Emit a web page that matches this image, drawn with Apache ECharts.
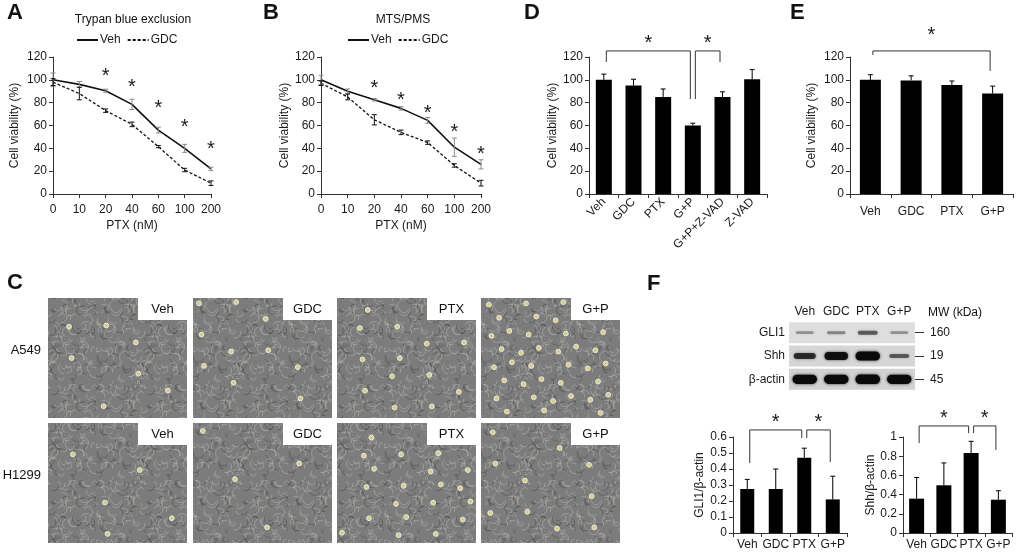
<!DOCTYPE html>
<html>
<head>
<meta charset="utf-8">
<script src="https://cdn.jsdelivr.net/npm/echarts@6/dist/echarts.min.js"></script>
<style>
html, body { margin: 0; padding: 0; background: #fff; }
#fig { width: 1017px; height: 553px; }
</style>
</head>
<body>
<div id="fig"></div>
<script>
// ---- data ----
var ptxDoses = ['0', '10', '20', '40', '60', '100', '200'];

// A: trypan blue exclusion
var trypanVeh = [100, 96, 90.5, 78.5, 56, 40, 22];
var trypanVehErr = [6, 2.5, 1.3, 4.5, 2.5, 3.5, 1.5];
var trypanGdc = [98, 88, 73, 61, 41.5, 21, 9.5];
var trypanGdcErr = [3, 5.5, 1.5, 2, 1, 1.5, 2];
var trypanStars = [[2, 107], [3, 98], [4, 79], [5, 63], [6, 43]];

// B: MTS/PMS
var mtsVeh = [100, 90, 82.5, 75, 64.5, 41, 26];
var mtsVehErr = [4, 2, 1, 1.5, 2.5, 8, 4];
var mtsGdc = [97, 85, 65, 54, 45, 25, 9.5];
var mtsGdcErr = [2, 2.5, 4.5, 2, 1.5, 1.5, 2.5];
var mtsStars = [[2, 97], [3, 86], [4, 75], [5, 58], [6, 39]];

// D: Z-VAD rescue
var zvadGroups = ['Veh', 'GDC', 'PTX', 'G+P', 'G+P+Z-VAD', 'Z-VAD'];
var zvadViab = [100, 95, 85, 60, 85, 100.5];
var zvadErr = [5, 5.5, 7, 2, 4.5, 8.5];
// [from, to, top, fromEnd, toEnd, star]
var zvadBrackets = [[0, 3, 125.3, 115.6, 83.2, 135.8], [3, 4, 125.3, 83.2, 115.6, 135.8]];

// E
var treatGroups = ['Veh', 'GDC', 'PTX', 'G+P'];
var panelEViab = [100, 99.5, 95.5, 88];
var panelEErr = [4.5, 4, 3.5, 6.5];
var panelEBrackets = [[0, 3, 125.3, 121.8, 107.7, 143.6]];

// C: micrographs
var cellLines = ['A549', 'H1299'];
var roundCells = [[8, 10, 14, 40], [6, 4, 22, 10]];

// F: western blot
var blotProteins = ['GLI1', 'Shh', 'β-actin'];
var blotMw = ['160', '19', '45'];
var gli1Band = [0.3, 0.35, 0.5, 0.3];
var shhBand = [0.7, 0.85, 0.95, 0.5];
var actinBand = [0.95, 0.95, 0.97, 0.95];

var gli1Ratio = [0.275, 0.275, 0.47, 0.21];
var gli1Err = [0.06, 0.125, 0.06, 0.145];
var gli1Brackets = [[0, 2, 0.644, 0.4375, 0.594, 0.72], [2, 3, 0.644, 0.594, 0.444, 0.72]];
var shhRatio = [0.358, 0.497, 0.833, 0.347];
var shhErr = [0.22, 0.233, 0.122, 0.093];
var shhBrackets = [[0, 2, 1.115, 0.9375, 1.04, 1.25], [2, 3, 1.115, 1.04, 0.865, 1.25]];

// ---- helpers ----
var ink = '#1a1a1a';
var FONT = '"Liberation Sans", Arial, sans-serif';

function triples(vals, errs) {
  return vals.map(function (v, i) { return [i, v, errs[i]]; });
}

function errItem(upOnly) {
  return function (params, api) {
    var x = api.value(0), v = api.value(1), e = api.value(2);
    var top = api.coord([x, v + e]);
    var bot = api.coord([x, upOnly ? v : v - e]);
    var st = { stroke: api.visual('color'), lineWidth: 1 };
    var kids = [
      { type: 'line', shape: { x1: top[0], y1: top[1], x2: bot[0], y2: bot[1] }, style: st },
      { type: 'line', shape: { x1: top[0] - 2.5, y1: top[1], x2: top[0] + 2.5, y2: top[1] }, style: st }
    ];
    if (!upOnly) {
      kids.push({ type: 'line', shape: { x1: bot[0] - 2.5, y1: bot[1], x2: bot[0] + 2.5, y2: bot[1] }, style: st });
    }
    return { type: 'group', children: kids };
  };
}

function starText(x, y) {
  return { type: 'text', x: x, y: y + 5, style: { text: '*', fontSize: 20, fontFamily: FONT, textAlign: 'center', textVerticalAlign: 'middle', fill: ink } };
}

function starItem(params, api) {
  var p = api.coord([api.value(0), api.value(1)]);
  return starText(p[0], p[1]);
}

function bracketItem(params, api) {
  var a = api.coord([api.value(0), api.value(2)]);
  var b = api.coord([api.value(1), api.value(2)]);
  var ya = api.coord([api.value(0), api.value(3)])[1];
  var yb = api.coord([api.value(1), api.value(4)])[1];
  var ys = api.coord([api.value(0), api.value(5)])[1];
  var xa = a[0] + 2.5, xb = b[0] - 2.5;
  return {
    type: 'group',
    children: [
      { type: 'polyline', shape: { points: [[xa, ya], [xa, a[1]], [xb, a[1]], [xb, yb]] }, style: { stroke: '#333', lineWidth: 1, fill: 'none' } },
      starText((xa + xb) / 2, ys)
    ]
  };
}

function gridAt(l, t, w, h) {
  return { left: l, top: t, width: w, height: h, containLabel: false, outerBoundsMode: 'none' };
}

function yAxisOf(grid, max, step, name, gap, nameSize) {
  return {
    type: 'value', gridIndex: grid, min: 0, max: max, interval: step,
    name: name, nameLocation: 'middle', nameGap: gap,
    nameTextStyle: { fontSize: nameSize || 12, color: ink, fontFamily: FONT },
    axisLine: { show: true, lineStyle: { color: '#333', width: 1 } },
    axisTick: { show: true, length: 4, lineStyle: { color: '#333' } },
    axisLabel: { fontSize: 12, color: ink, margin: 6, fontFamily: FONT },
    splitLine: { show: false }
  };
}

function xCatOf(grid, cats, gapped, extra) {
  var ax = {
    type: 'category', gridIndex: grid, data: cats, boundaryGap: gapped,
    axisLine: { show: true, lineStyle: { color: '#333', width: 1 } },
    axisTick: { show: true, length: 4, lineStyle: { color: '#333' } },
    axisLabel: { fontSize: 12, color: ink, margin: 10, interval: 0, fontFamily: FONT },
    splitLine: { show: false }
  };
  for (var k in extra) ax[k] = extra[k];
  return ax;
}

function lineSeries(grid, name, vals, dash, width) {
  return {
    type: 'line', name: name, xAxisIndex: grid, yAxisIndex: grid, data: vals,
    symbol: 'none', showSymbol: false, lineStyle: { color: '#111', width: width, type: dash },
    itemStyle: { color: '#111' }, z: 3
  };
}

function errSeries(grid, vals, errs, color, upOnly) {
  return {
    type: 'custom', xAxisIndex: grid, yAxisIndex: grid, data: triples(vals, errs),
    renderItem: errItem(upOnly), itemStyle: { color: color }, z: 4, silent: true
  };
}

function barSeries(grid, vals, width) {
  return { type: 'bar', xAxisIndex: grid, yAxisIndex: grid, data: vals, barWidth: width, itemStyle: { color: '#000' }, z: 2 };
}

function customOf(grid, data, fn) {
  return { type: 'custom', xAxisIndex: grid, yAxisIndex: grid, data: data, renderItem: fn, z: 5, silent: true };
}

function legendAt(left) {
  return {
    left: left, top: 34, padding: 0, itemWidth: 21, itemHeight: 10, itemGap: 6, selectedMode: false,
    itemStyle: { opacity: 0 }, data: ['Veh', 'GDC'],
    textStyle: { fontSize: 12, color: ink, fontFamily: FONT, padding: [0, 0, 0, -3] }
  };
}

// ---- blot renderers ----
var stripShade = ['#dedede', '#d6d6d6', '#d2d2d2'];
function stripItem(params, api) {
  var row = api.value(1);
  var c = api.coord([0, row]);
  var cs = params.coordSys;
  return { type: 'rect', shape: { x: cs.x, y: c[1] - 10.5, width: cs.width, height: 21 }, style: { fill: stripShade[row] } };
}

function bandItem(params, api) {
  var c = api.coord([api.value(0), api.value(1)]);
  var k = api.value(2);
  var h = 2 + 8 * k * k, w = 15 + 10 * k;
  return {
    type: 'rect',
    shape: { x: c[0] - w / 2, y: c[1] - h / 2, width: w, height: h, r: h / 2 },
    style: { fill: 'rgba(10,10,10,' + Math.min(1, k * 1.1) + ')', shadowBlur: 3, shadowColor: 'rgba(0,0,0,' + k * 0.8 + ')' }
  };
}

function bandData(row, vals) {
  return vals.map(function (v, i) { return [i, row, v]; });
}

// ---- micrograph texture ----
var tex = document.createElement('canvas');
tex.width = 96; tex.height = 96;
var g = tex.getContext('2d');
g.fillStyle = '#7c7c7c';
g.fillRect(0, 0, 96, 96);
for (var i = 0; i < 260; i++) {
  var cx = (i * 37) % 96, cy = (i * 61 + (i * i) % 17) % 96;
  var r = 2 + (i % 5) * 0.9, a0 = (i * 1.3) % 6.28;
  g.strokeStyle = i % 3 ? 'rgba(200,200,190,0.45)' : 'rgba(50,50,50,0.4)';
  g.lineWidth = 0.9;
  g.beginPath();
  g.arc(cx, cy, r, a0, a0 + 2.6);
  g.stroke();
}

var gfx = [];
function txt(x, y, s, size, weight, align) {
  gfx.push({ type: 'text', x: x, y: y, silent: true, style: {
    text: s, fontSize: size, fontWeight: weight || 'normal', fontFamily: FONT,
    textAlign: align || 'left', textVerticalAlign: 'middle', fill: '#111' } });
}

// panel letters and titles
txt(7, 13, 'A', 22, 'bold');
txt(263, 13, 'B', 22, 'bold');
txt(524, 13, 'D', 22, 'bold');
txt(790, 13, 'E', 22, 'bold');
txt(7, 283, 'C', 22, 'bold');
txt(647, 284, 'F', 22, 'bold');
txt(133, 20, 'Trypan blue exclusion', 12, 'normal', 'center');
txt(403, 20, 'MTS/PMS', 12, 'normal', 'center');
txt(928, 313, 'MW (kDa)', 12);

// micrograph tiles
var tileX = [48, 193, 337, 481], tileY = [298, 423], tileW = 139, tileH = 120;
cellLines.forEach(function (line, r) {
  txt(41, tileY[r] + 52, line, 13, 'normal', 'right');
  treatGroups.forEach(function (lab, c) {
    var x0 = tileX[c], y0 = tileY[r];
    gfx.push({ type: 'rect', silent: true, shape: { x: x0, y: y0, width: tileW, height: tileH },
      style: { fill: { image: tex, repeat: 'repeat' } } });
    var n = roundCells[r][c], seed = 0.13 * (r * 4 + c + 1);
    for (var k = 0; k < n; k++) {
      var px = x0 + 4 + ((seed + k * 0.7548776662) % 1) * (tileW - 8);
      var py = y0 + 4 + ((seed * 1.7 + k * 0.5698402910) % 1) * (tileH - 8);
      if (px > x0 + tileW - 52 && py < y0 + 25) continue;
      gfx.push({ type: 'circle', silent: true, shape: { cx: px, cy: py, r: 2.4 },
        style: { fill: '#d6cc86', stroke: '#eeeadf', lineWidth: 1 } });
    }
    gfx.push({ type: 'rect', silent: true, shape: { x: x0 + tileW - 49, y: y0, width: 49, height: 22 }, style: { fill: '#fff' } });
    txt(x0 + tileW - 24.5, y0 + 11.5, lab, 13, 'normal', 'center');
  });
});

var chart = echarts.init(document.getElementById('fig'), null, { renderer: 'canvas' });

chart.setOption({
  backgroundColor: '#fff',
  animation: false,
  textStyle: { fontFamily: FONT },
  legend: [legendAt(76), legendAt(347)],
  grid: [
    gridAt(53, 57, 158, 137),
    gridAt(321, 57, 160, 137),
    gridAt(589, 57, 178, 137),
    gridAt(850, 57, 163, 137),
    gridAt(733, 437, 114, 96),
    gridAt(903, 437, 109, 96),
    gridAt(789, 321, 126, 70)
  ],
  xAxis: [
    xCatOf(0, ptxDoses, false, { name: 'PTX (nM)', nameLocation: 'middle', nameGap: 26, nameTextStyle: { fontSize: 12, color: ink } }),
    xCatOf(1, ptxDoses, false, { name: 'PTX (nM)', nameLocation: 'middle', nameGap: 26, nameTextStyle: { fontSize: 12, color: ink } }),
    xCatOf(2, zvadGroups, true, { axisLabel: { fontSize: 12, color: ink, margin: 6, interval: 0, rotate: 45, fontFamily: FONT } }),
    xCatOf(3, treatGroups, true, { axisLabel: { fontSize: 12, color: ink, margin: 12, interval: 0, fontFamily: FONT } }),
    xCatOf(4, treatGroups, true, { axisLabel: { fontSize: 12, color: ink, margin: 6, interval: 0, fontFamily: FONT } }),
    xCatOf(5, treatGroups, true, { axisLabel: { fontSize: 12, color: ink, margin: 6, interval: 0, fontFamily: FONT } }),
    { type: 'category', gridIndex: 6, data: treatGroups, position: 'top',
      axisLine: { show: false }, axisTick: { show: false },
      axisLabel: { fontSize: 12, color: ink, margin: 3, interval: 0, fontFamily: FONT } }
  ],
  yAxis: [
    yAxisOf(0, 120, 20, 'Cell viability (%)', 32),
    yAxisOf(1, 120, 20, 'Cell viability (%)', 30),
    yAxisOf(2, 120, 20, 'Cell viability (%)', 30),
    yAxisOf(3, 120, 20, 'Cell viability (%)', 32),
    yAxisOf(4, 0.6, 0.1, 'GLI1/β-actin', 27, 12),
    yAxisOf(5, 1, 0.2, 'Shh/β-actin', 25, 12),
    { type: 'category', gridIndex: 6, data: blotProteins, inverse: true,
      axisLine: { show: false }, axisTick: { show: false },
      axisLabel: { fontSize: 12, color: ink, margin: 4, fontFamily: FONT } },
    { type: 'category', gridIndex: 6, data: blotMw, inverse: true, position: 'right',
      axisLine: { show: false },
      axisTick: { show: true, alignWithLabel: true, length: 9, lineStyle: { color: '#333' } },
      axisLabel: { fontSize: 12, color: ink, margin: 15, fontFamily: FONT } }
  ],
  series: [
    // A
    lineSeries(0, 'Veh', trypanVeh, 'solid', 1.6),
    lineSeries(0, 'GDC', trypanGdc, [3, 2], 1.3),
    errSeries(0, trypanVeh, trypanVehErr, '#8a8a8a', false),
    errSeries(0, trypanGdc, trypanGdcErr, '#111', false),
    customOf(0, trypanStars, starItem),
    // B
    lineSeries(1, 'Veh', mtsVeh, 'solid', 1.6),
    lineSeries(1, 'GDC', mtsGdc, [3, 2], 1.3),
    errSeries(1, mtsVeh, mtsVehErr, '#8a8a8a', false),
    errSeries(1, mtsGdc, mtsGdcErr, '#111', false),
    customOf(1, mtsStars, starItem),
    // D
    barSeries(2, zvadViab, 16),
    errSeries(2, zvadViab, zvadErr, '#000', true),
    customOf(2, zvadBrackets, bracketItem),
    // E
    barSeries(3, panelEViab, 21),
    errSeries(3, panelEViab, panelEErr, '#000', true),
    customOf(3, panelEBrackets, bracketItem),
    // F quantification
    barSeries(4, gli1Ratio, 14),
    errSeries(4, gli1Ratio, gli1Err, '#000', true),
    customOf(4, gli1Brackets, bracketItem),
    barSeries(5, shhRatio, 15),
    errSeries(5, shhRatio, shhErr, '#000', true),
    customOf(5, shhBrackets, bracketItem),
    // F blot
    { type: 'custom', xAxisIndex: 6, yAxisIndex: 6, data: blotProteins.map(function (p, i) { return [0, i]; }),
      renderItem: stripItem, z: 1, silent: true },
    { type: 'custom', xAxisIndex: 6, yAxisIndex: 6,
      data: bandData(0, gli1Band).concat(bandData(1, shhBand), bandData(2, actinBand)),
      renderItem: bandItem, z: 2, silent: true }
  ],
  graphic: gfx
});
</script>
</body>
</html>
